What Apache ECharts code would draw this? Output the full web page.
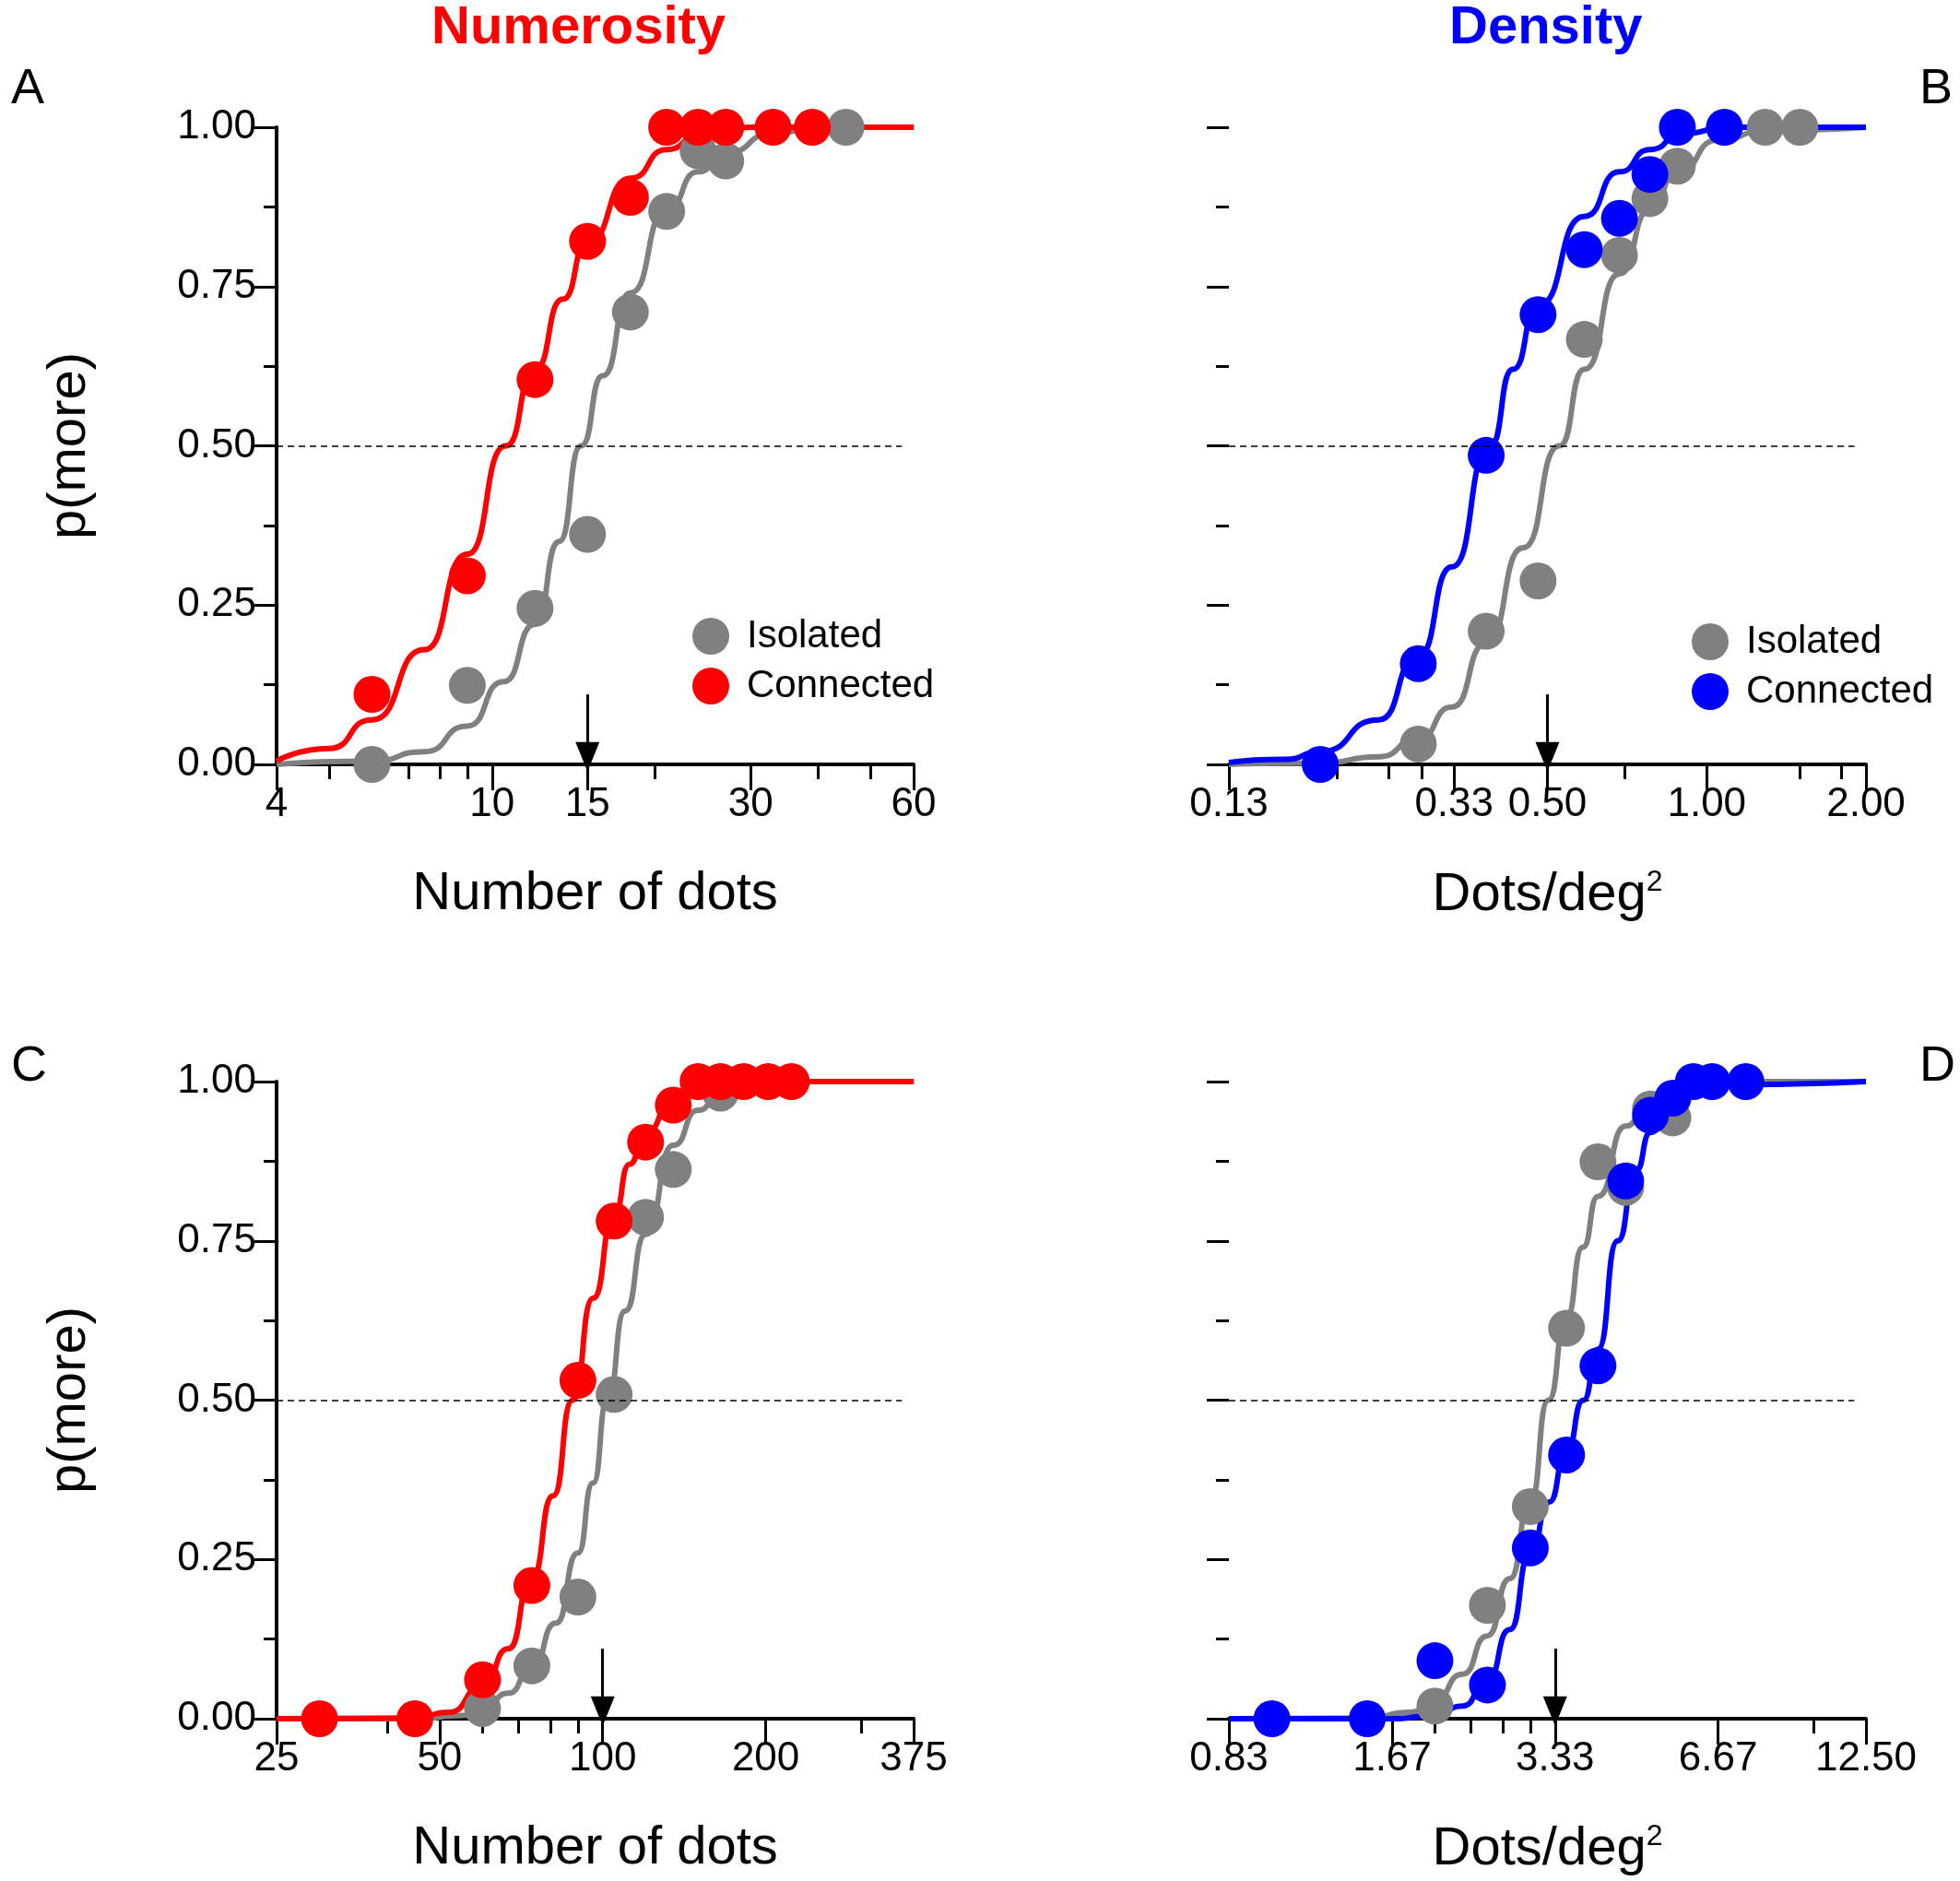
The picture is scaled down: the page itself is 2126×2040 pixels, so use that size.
<!DOCTYPE html>
<html><head><meta charset="utf-8">
<script src="https://cdn.jsdelivr.net/npm/echarts@6/dist/echarts.min.js"></script>
<style>html,body{margin:0;background:#fff}#c{width:2126px;height:2040px}</style>
</head><body><div id="c"></div>
<script>
// Panel A: numerosity, small numbers
const aIsoX = [6, 9, 12, 15, 18, 21, 24, 27, 45];
const aIsoY = [0, 0.124, 0.245, 0.361, 0.71, 0.868, 0.963, 0.947, 1];
const aConX = [6, 9, 12, 15, 18, 21, 24, 27, 33, 39];
const aConY = [0.11, 0.296, 0.604, 0.821, 0.89, 1, 1, 1, 1, 1];
const aIsoFitX = [4, 6, 7.5, 9, 10.5, 12, 13.3, 14.6, 16, 18, 21, 24, 27, 33, 40, 60];
const aIsoFitY = [0, 0.005, 0.02, 0.06, 0.13, 0.22, 0.35, 0.5, 0.61, 0.74, 0.87, 0.93, 0.96, 0.99, 1, 1];
const aConFitX = [4, 5, 6, 7.5, 9, 10.6, 12, 13.5, 15, 18, 21, 24, 30, 40, 60];
const aConFitY = [0.005, 0.025, 0.07, 0.18, 0.33, 0.5, 0.62, 0.73, 0.82, 0.92, 0.965, 0.985, 1, 1, 1];

// Panel B: density, small numbers
const bIsoX = [0.285, 0.383, 0.48, 0.587, 0.684, 0.781, 0.88, 1.29, 1.5];
const bIsoY = [0.032, 0.209, 0.288, 0.667, 0.799, 0.888, 0.939, 1, 1];
const bConX = [0.186, 0.285, 0.383, 0.48, 0.587, 0.684, 0.781, 0.88, 1.08];
const bConY = [0, 0.158, 0.485, 0.706, 0.808, 0.857, 0.926, 1, 1];
const bIsoFitX = [0.125, 0.186, 0.24, 0.285, 0.33, 0.383, 0.45, 0.527, 0.587, 0.684, 0.78, 0.88, 1.05, 1.3, 2];
const bIsoFitY = [0, 0.002, 0.012, 0.04, 0.09, 0.19, 0.34, 0.5, 0.62, 0.77, 0.87, 0.93, 0.98, 0.995, 1];
const bConFitX = [0.125, 0.16, 0.186, 0.24, 0.285, 0.33, 0.39, 0.43, 0.48, 0.587, 0.684, 0.781, 0.9, 1.1, 2];
const bConFitY = [0.003, 0.008, 0.02, 0.07, 0.17, 0.31, 0.5, 0.62, 0.72, 0.86, 0.93, 0.965, 0.99, 1, 1];

// Panel C: numerosity, large numbers
const cIsoX = [60, 74, 90, 105, 120, 135, 165];
const cIsoY = [0.016, 0.083, 0.191, 0.509, 0.787, 0.862, 0.982];
const cConX = [30, 45, 60, 74, 90, 105, 120, 135, 150, 165, 182, 202, 223];
const cConY = [0, 0, 0.061, 0.209, 0.531, 0.781, 0.905, 0.963, 1, 1, 1, 1, 1];
const cIsoFitX = [25, 45, 55, 60, 67, 74, 82, 90, 96, 102, 110, 120, 135, 150, 165, 200, 375];
const cIsoFitY = [0, 0, 0.005, 0.015, 0.04, 0.08, 0.15, 0.26, 0.37, 0.5, 0.64, 0.76, 0.9, 0.955, 0.98, 1, 1];
const cConFitX = [25, 45, 52, 60, 67, 74, 81, 88, 96, 105, 112, 120, 135, 150, 180, 375];
const cConFitY = [0, 0.001, 0.01, 0.05, 0.11, 0.22, 0.35, 0.5, 0.66, 0.79, 0.87, 0.92, 0.97, 0.99, 1, 1];

// Panel D: density, large numbers
const dIsoX = [2.0, 2.5, 3.0, 3.5, 4.0, 4.5, 5.0, 5.5];
const dIsoY = [0.02, 0.178, 0.333, 0.613, 0.874, 0.834, 0.957, 0.943];
const dConX = [1.0, 1.5, 2.0, 2.5, 3.0, 3.5, 4.0, 4.5, 5.0, 5.5, 6.0, 6.5, 7.5];
const dConY = [0, 0, 0.091, 0.053, 0.268, 0.414, 0.554, 0.844, 0.947, 0.974, 1, 1, 1];
const dIsoFitX = [0.833, 1.5, 1.8, 2.0, 2.25, 2.5, 2.75, 3.0, 3.24, 3.5, 3.75, 4.0, 4.5, 5.0, 6.0, 7.5, 12.5];
const dIsoFitY = [0, 0.001, 0.01, 0.03, 0.07, 0.13, 0.22, 0.34, 0.5, 0.63, 0.74, 0.82, 0.93, 0.975, 0.997, 1, 1];
const dConFitX = [0.833, 1.67, 2.0, 2.25, 2.5, 2.75, 3.0, 3.25, 3.5, 3.76, 4.0, 4.35, 4.7, 5.0, 5.5, 6.5, 12.5];
const dConFitY = [0, 0, 0.005, 0.02, 0.06, 0.14, 0.26, 0.34, 0.42, 0.5, 0.58, 0.75, 0.86, 0.92, 0.97, 0.995, 1];

// axes
const aTicks = [4, 10, 15, 30, 60], aMinor = [5, 6, 7, 8, 9, 20, 40, 50];
const bTicks = [0.125, 0.333, 0.5, 1, 2], bMinor = [0.2, 0.25, 0.29, 0.7, 1.5, 1.8];
const cTicks = [25, 50, 100, 200, 375], cMinor = [40, 60, 70, 80, 90, 300];
const dTicks = [0.833, 1.667, 3.333, 6.667, 12.5], dMinor = [2.0, 2.33, 2.67, 3.0, 10];
const aLabels = ['4', '10', '15', '30', '60'];
const bLabels = ['0.13', '0.33', '0.50', '1.00', '2.00'];
const cLabels = ['25', '50', '100', '200', '375'];
const dLabels = ['0.83', '1.67', '3.33', '6.67', '12.50'];
const arrowX = [15, 0.5, 100, 3.333];

const RED = '#ff0000', BLUE = '#0000ff', GRAY = '#808080';
const FONT = 'Liberation Sans';
const L = Math.log;
const pairs = (xs, ys) => xs.map((x, i) => [L(x), ys[i]]);

const grids = [
  { left: 300, top: 138, width: 691, height: 691 },
  { left: 1333, top: 138, width: 691, height: 691 },
  { left: 300, top: 1173, width: 691, height: 691 },
  { left: 1333, top: 1173, width: 691, height: 691 }
];
const panels = [
  { ticks: aTicks, minor: aMinor, labels: aLabels, col: RED, name: 'Number of dots',
    iso: [aIsoX, aIsoY], con: [aConX, aConY], isoFit: [aIsoFitX, aIsoFitY], conFit: [aConFitX, aConFitY] },
  { ticks: bTicks, minor: bMinor, labels: bLabels, col: BLUE, name: 'Dots/deg{sup|2}',
    iso: [bIsoX, bIsoY], con: [bConX, bConY], isoFit: [bIsoFitX, bIsoFitY], conFit: [bConFitX, bConFitY] },
  { ticks: cTicks, minor: cMinor, labels: cLabels, col: RED, name: 'Number of dots',
    iso: [cIsoX, cIsoY], con: [cConX, cConY], isoFit: [cIsoFitX, cIsoFitY], conFit: [cConFitX, cConFitY] },
  { ticks: dTicks, minor: dMinor, labels: dLabels, col: BLUE, name: 'Dots/deg{sup|2}',
    iso: [dIsoX, dIsoY], con: [dConX, dConY], isoFit: [dIsoFitX, dIsoFitY], conFit: [dConFitX, dConFitY] }
];

const xAxis = [], yAxis = [], series = [], legend = [];
panels.forEach((p, i) => {
  const mn = L(p.ticks[0]), mx = L(p.ticks[p.ticks.length - 1]);
  xAxis.push({
    type: 'value', gridIndex: i, min: mn, max: mx, name: p.name, nameLocation: 'middle', nameGap: 112,
    nameTextStyle: { fontFamily: FONT, fontSize: 58, color: '#000', rich: { sup: { fontSize: 32, verticalAlign: 'top', padding: [0, 0, 28, 0] } } },
    axisLine: { onZero: false, lineStyle: { color: '#000', width: 4 } },
    axisTick: { customValues: p.ticks.map(L), length: 28, lineStyle: { color: '#000', width: 3 } },
    axisLabel: { customValues: p.ticks.map(L), margin: 22, fontFamily: FONT, fontSize: 44, color: '#000',
      formatter: v => p.labels[p.ticks.findIndex(t => Math.abs(L(t) - v) < 1e-6)] },
    splitLine: { show: false }
  });
  xAxis.push({
    type: 'value', gridIndex: i, min: mn, max: mx, position: 'bottom',
    axisLine: { show: false, onZero: false }, axisLabel: { show: false }, splitLine: { show: false },
    axisTick: { customValues: p.minor.map(L), length: 16, lineStyle: { color: '#000', width: 3 } }
  });
  yAxis.push({
    type: 'value', gridIndex: i, min: 0, max: 1, interval: 0.25,
    name: i % 2 === 0 ? 'p(more)' : '', nameLocation: 'middle', nameGap: 195,
    nameTextStyle: { fontFamily: FONT, fontSize: 58, color: '#000' },
    axisLine: { show: i % 2 === 0, onZero: false, lineStyle: { color: '#000', width: 4 } },
    axisTick: { length: 24, lineStyle: { color: '#000', width: 3 } },
    minorTick: { show: true, splitNumber: 2, length: 14, lineStyle: { color: '#000', width: 3 } },
    axisLabel: { show: i % 2 === 0, margin: 22, fontFamily: FONT, fontSize: 44, color: '#000', formatter: v => v.toFixed(2) },
    splitLine: { show: false }
  });
  const sfx = ' '.repeat(i);
  const line = (d, c) => ({ type: 'line', xAxisIndex: i * 2, yAxisIndex: i, data: pairs(d[0], d[1]), smooth: 0.6,
    smoothMonotone: 'x', showSymbol: false, lineStyle: { color: c, width: 6 }, z: 2, silent: true });
  series.push(Object.assign(line(p.isoFit, GRAY), {
    markLine: { silent: true, symbol: 'none', label: { show: false },
      lineStyle: { color: '#000', type: [7, 5], width: 1.5 },
      data: [[{ coord: [L(p.ticks[0]), 0.5] }, { coord: [L(p.ticks[p.ticks.length - 1]) - 0.05, 0.5] }],
        [{ coord: [L(arrowX[i]), 0.11], symbol: 'none' }, { coord: [L(arrowX[i]), 0.012], symbol: 'triangle', symbolSize: [26, 32], symbolRotate: 180,
          lineStyle: { type: 'solid', width: 3 } }]] }
  }));
  series.push(line(p.conFit, p.col));
  series.push({ type: 'scatter', name: 'Isolated' + sfx, xAxisIndex: i * 2, yAxisIndex: i, data: pairs(p.iso[0], p.iso[1]),
    symbolSize: 40, itemStyle: { color: GRAY, opacity: 1 }, z: 3 });
  series.push({ type: 'scatter', name: 'Connected' + sfx, xAxisIndex: i * 2, yAxisIndex: i, data: pairs(p.con[0], p.con[1]),
    symbolSize: 40, itemStyle: { color: p.col, opacity: 1 }, z: 4 });
  if (i < 2) legend.push({
    data: [{ name: 'Isolated' + sfx, icon: 'circle' }, { name: 'Connected' + sfx, icon: 'circle' }],
    orient: 'vertical', left: i === 0 ? 746 : 1830, top: i === 0 ? 664 : 670, itemWidth: 40, itemHeight: 40, itemGap: 12,
    textStyle: { fontFamily: FONT, fontSize: 42, color: '#000', padding: [0, 0, 0, 14] }, selectedMode: false,
    formatter: n => n.trim()
  });
});

const txt = (x, y, s, o) => ({ type: 'text', left: x, top: y, style: Object.assign({ text: s, fontFamily: FONT, fontSize: 54, fill: '#000' }, o) });
const chart = echarts.init(document.getElementById('c'));
chart.setOption({
  backgroundColor: '#fff',
  animation: false,
  grid: grids, xAxis, yAxis, series, legend,
  graphic: [
    txt(468, 2, 'Numerosity', { fill: RED, fontWeight: 'bold', fontSize: 58 }),
    txt(1572, 2, 'Density', { fill: BLUE, fontWeight: 'bold', fontSize: 58 }),
    txt(12, 70, 'A'), txt(2082, 70, 'B'), txt(12, 1130, 'C'), txt(2082, 1130, 'D')
  ]
});
</script></body></html>
